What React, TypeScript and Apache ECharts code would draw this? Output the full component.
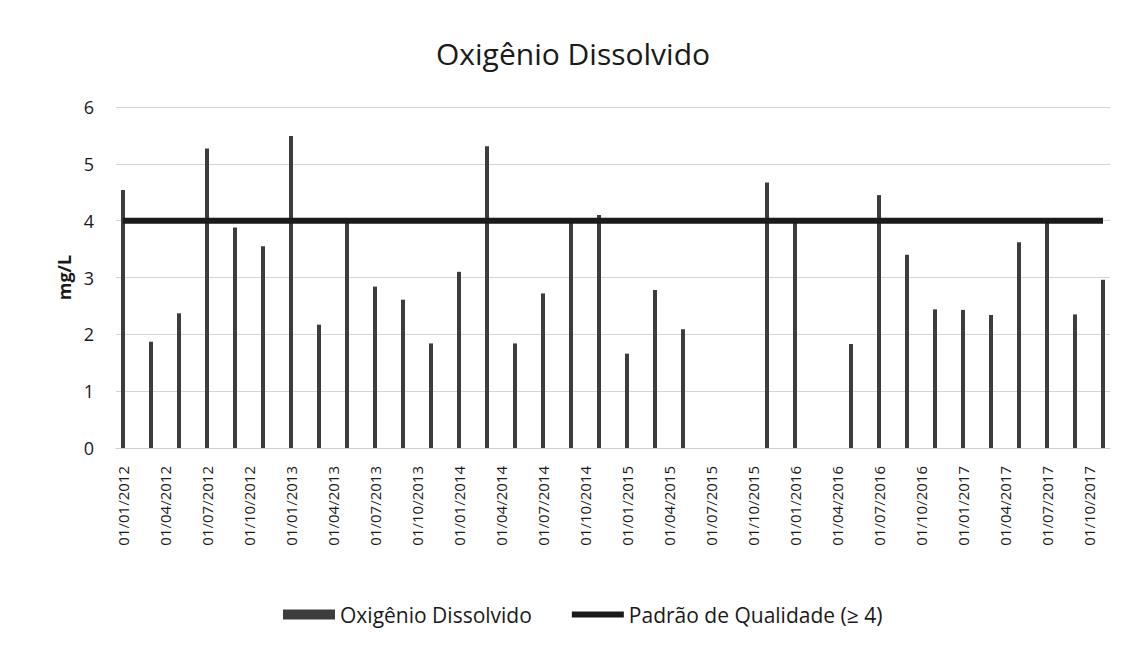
import React, { useEffect, useRef } from "react";
import * as echarts from "echarts";

// Bimonthly samples (Jan, Mar, May, Jul, Sep, Nov) from 2012 to 2017, mg/L
const years = [2012, 2013, 2014, 2015, 2016, 2017];
const oxygenValues: (number | null)[] = [
  4.54, 1.87, 2.37, 5.27, 3.88, 3.55,
  5.49, 2.17, 3.98, 2.84, 2.61, 1.84,
  3.10, 5.31, 1.84, 2.72, 3.97, 4.10,
  1.66, 2.78, 2.09, null, null, 4.67,
  3.98, null, 1.83, 4.45, 3.40, 2.44,
  2.43, 2.34, 3.62, 4.03, 2.35, 2.96,
];
const qualityStandard = 4;
const yTicks = [0, 1, 2, 3, 4, 5, 6];

// monthly categories Jan 2012 .. Nov 2017
const categories: string[] = [];
years.forEach((y) => {
  for (let m = 1; m <= 12; m++) {
    if (y === 2017 && m === 12) continue;
    categories.push(`01/${String(m).padStart(2, "0")}/${y}`);
  }
});

export default function App() {
  const ref = useRef<HTMLDivElement>(null);
  useEffect(() => {
    if (!ref.current) return;
    const chart = echarts.init(ref.current, null, { renderer: "svg" });
    const barData = categories.map((_, i) =>
      i % 2 === 0 ? oxygenValues[i / 2] ?? null : null
    );
    const lineData = categories.map(() => qualityStandard);
    const font = "'Open Sans', Lato, sans-serif";
    chart.setOption({
      animation: false,
      backgroundColor: "#ffffff",
      textStyle: { fontFamily: font },
      title: {
        text: "Oxigênio Dissolvido",
        left: 431,
        top: 33,
        textStyle: { fontFamily: font, fontSize: 30, fontWeight: "normal", color: "#1a1a1a" },
      },
      legend: {
        left: 278,
        top: 599,
        itemGap: 40,
        itemWidth: 52,
        itemHeight: 10,
        textStyle: { fontFamily: font, fontSize: 21, color: "#1a1a1a" },
        data: [
          { name: "Oxigênio Dissolvido", icon: "rect" },
          { name: "Padrão de Qualidade (≥ 4)", icon: "path://M0,0 H52 V6 H0 Z" },
        ],
      },
      grid: { left: 116, right: 15, top: 107, bottom: 200 },
      xAxis: {
        type: "category",
        data: categories,
        boundaryGap: true,
        axisTick: { show: false },
        axisLine: { show: true, lineStyle: { color: "#cfcfcf" } },
        axisLabel: {
          interval: 2,
          rotate: 90,
          fontSize: 15,
          color: "#1a1a1a",
          margin: 18,
          fontFamily: font,
        },
      },
      yAxis: {
        type: "value",
        min: yTicks[0],
        max: yTicks[yTicks.length - 1],
        interval: 1,
        name: "mg/L",
        nameLocation: "middle",
        nameRotate: 90,
        nameGap: 38,
        nameTextStyle: { fontSize: 18, fontWeight: "bold", color: "#1a1a1a", fontFamily: font },
        axisLine: { show: false },
        axisTick: { show: false },
        axisLabel: { fontSize: 18, color: "#1a1a1a", margin: 22, fontFamily: font },
        splitLine: { lineStyle: { color: "#d4d4d4", width: 1 } },
      },
      series: [
        {
          name: "Oxigênio Dissolvido",
          type: "bar",
          data: barData,
          barWidth: 4,
          itemStyle: { color: "#3d3d3d" },
        },
        {
          name: "Padrão de Qualidade (≥ 4)",
          type: "line",
          data: lineData,
          symbol: "none",
          lineStyle: { color: "#1a1a1a", width: 6 },
          itemStyle: { color: "#1a1a1a" },
        },
      ],
    });
    return () => chart.dispose();
  }, []);
  return (
    <div
      ref={ref}
      style={{ position: "absolute", left: 0, top: 0, width: 1125, height: 648 }}
    />
  );
}
